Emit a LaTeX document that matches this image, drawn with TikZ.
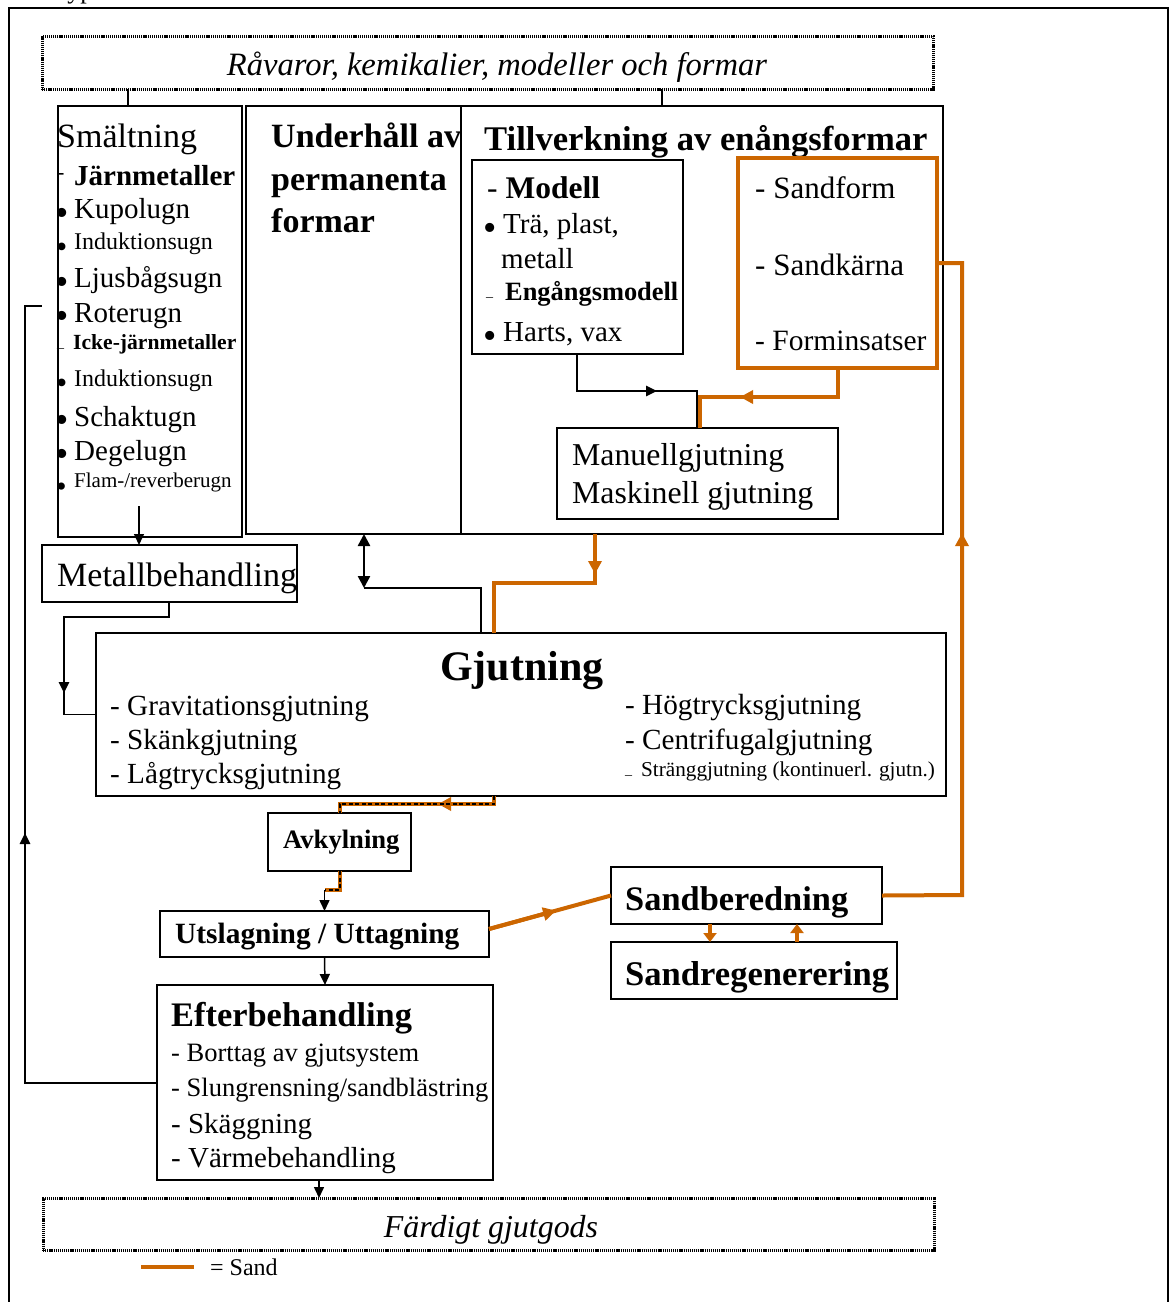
\documentclass[tikz,border=0pt]{standalone}
\usepackage{fontspec}
\setmainfont{Liberation Serif}
\usetikzlibrary{arrows.meta,calc}
\definecolor{sand}{RGB}{204,102,0}
\newcommand\fz[1]{\fontsize{#1pt}{#1pt}\selectfont}
\begin{document}
\begin{tikzpicture}[x=1pt,y=-1pt,
  box/.style={draw, line width=1.5pt, inner sep=0pt, outer sep=0pt, anchor=north west},
  dotbox/.style={draw, line width=3pt, dash pattern=on 1.2pt off 0.9pt, inner sep=0pt, outer sep=0pt, anchor=north west},
  sbox/.style={draw=sand, line width=4pt, inner sep=0pt, outer sep=0pt, anchor=north west},
  tx/.style={anchor=base west, inner sep=0pt},
  ln/.style={line width=1.5pt},
  sln/.style={draw=sand, line width=4pt},
  bk/.style={-{Triangle[length=11pt,width=10pt]}},
  sk/.style={-{Triangle[length=13pt,width=13pt]}},
  blk/.style={draw=black, line width=2pt, dash pattern=on 4pt off 2.5pt}
]
\useasboundingbox (0,0) rectangle (1170,1302);
\fill[white] (0,0) rectangle (1170,1302);

% outer frame and cut-off text
\draw[ln] (9,1302) -- (9,8) -- (1168,8) -- (1168,1302);
\node[tx, font=\fz{26}] (cut) at (60,-2) {typ};

% raw material box
\node[dotbox, minimum width=891pt, minimum height=53pt] (raw) at (42,36) {};
\node[font=\fz{32.6}\itshape, anchor=base, inner sep=0pt] (rawt) at (497,75) {Råvaror, kemikalier, modeller och formar};

% upper boxes
\node[box, minimum width=184pt, minimum height=431pt] (smelt) at (58,106) {};
\node[box, minimum width=697pt, minimum height=428pt] (big) at (246,106) {};
\draw[ln] ([xshift=215pt]big.north west) -- ([xshift=215pt]big.south west);
\coordinate (c1) at ([xshift=86pt]raw.south west);
\coordinate (c2) at ([xshift=620pt]raw.south west);
\draw[ln] (c1) -- (c1 |- smelt.north);
\draw[ln] (c2) -- (c2 |- big.north);

% Smältning texts
\node[tx,font=\fz{34}] (s0) at (57,147) {Smältning};
\node[tx,font=\fz{22}] (s1d) at (57,179) {-};
\node[tx,font=\fz{29}\bfseries] (s1) at (74,185) {Järnmetaller};
\node[tx,font=\fz{38}] (b1) at (55,225) {•};
\node[tx,font=\fz{29}] (s2) at (74,218) {Kupolugn};
\node[tx,font=\fz{32}] (b2) at (56,257) {•};
\node[tx,font=\fz{24}] (s3) at (74,249) {Induktionsugn};
\node[tx,font=\fz{38}] (b3) at (55,294) {•};
\node[tx,font=\fz{29}] (s4) at (74,287) {Ljusbågsugn};
\node[tx,font=\fz{38}] (b4) at (55,328) {•};
\node[tx,font=\fz{29}] (s5) at (74,322) {Roterugn};
\node[tx,font=\fz{14}] (s6d) at (57,347) {\_};
\node[tx,font=\fz{21.6}\bfseries] (s6) at (73,349) {Icke-järnmetaller};
\node[tx,font=\fz{32}] (b7) at (56,393) {•};
\node[tx,font=\fz{24}] (s7) at (74,386) {Induktionsugn};
\node[tx,font=\fz{38}] (b8) at (55,432) {•};
\node[tx,font=\fz{29}] (s8) at (74,426) {Schaktugn};
\node[tx,font=\fz{38}] (b9) at (55,466) {•};
\node[tx,font=\fz{29}] (s9) at (74,460) {Degelugn};
\node[tx,font=\fz{30}] (b10) at (56,496) {•};
\node[tx,font=\fz{21}] (s10) at (74,487) {Flam-/reverberugn};

% Metallbehandling
\node[box, minimum width=255pt, minimum height=57pt] (metall) at (42,545) {};
\node[tx,font=\fz{34}] (metallt) at (57,586) {Metallbehandling};
\coordinate (a1) at (139,506);
\draw[ln, bk] (a1) -- (a1 |- metall.north);

% Underhåll
\node[tx,font=\fz{34}\bfseries] (u1) at (271,147) {Underhåll av};
\node[tx,font=\fz{34}\bfseries] (u2) at (271,190) {permanenta};
\node[tx,font=\fz{34}\bfseries] (u3) at (271,232) {formar};

% Tillverkning
\node[tx,font=\fz{34.6}\bfseries] (tv) at (484,150) {Tillverkning av enångsformar};
\node[box, minimum width=211pt, minimum height=194pt] (modell) at (472,160) {};
\node[tx,font=\fz{31.5}] (m1) at (487,198) {- \textbf{Modell}};
\node[tx,font=\fz{38}] (mb1) at (483,240) {•};
\node[tx,font=\fz{29}] (m2) at (503,233) {Trä, plast,};
\node[tx,font=\fz{29}] (m3) at (501,268) {metall};
\node[tx,font=\fz{14}] (m4d) at (486,296) {\_};
\node[tx,font=\fz{26.4}\bfseries] (m4) at (505,300) {Engångsmodell};
\node[tx,font=\fz{38}] (mb5) at (483,348) {•};
\node[tx,font=\fz{29}] (m5) at (503,341) {Harts, vax};

\node[sbox, minimum width=199pt, minimum height=210pt] (sand) at (738,158) {};
\node[tx,font=\fz{31}] (sd1) at (755,198) {- Sandform};
\node[tx,font=\fz{31}] (sd2) at (755,275) {- Sandkärna};
\node[tx,font=\fz{29.5}] (sd3) at (755,350) {- Forminsatser};

\node[box, minimum width=281pt, minimum height=91pt] (man) at (557,428) {};
\node[tx,font=\fz{31.8}] (man1) at (572,465) {Manuellgjutning};
\node[tx,font=\fz{31.8}] (man2) at (572,503) {Maskinell gjutning};

% sand box -> Manuell
\coordinate (sb) at ([xshift=100pt]sand.south west);
\coordinate (sj) at (700,397);
\draw[sln] (sb) |- (sj) -- (sj |- man.north);
\coordinate (sa) at (740,397);
\draw[sln, sk] (sb |- sj) -- (sa);
% Modell -> Manuell
\coordinate (mb) at ([xshift=105pt]modell.south west);
\coordinate (mj) at (697,391);
\draw[ln] (mb) |- (mj) -- (mj |- man.north);
\coordinate (ma1) at (611,391);
\coordinate (ma2) at (657,391);
\draw[line width=2.5pt, bk] (ma1) -- (ma2);

% Gjutning
\node[box, minimum width=850pt, minimum height=163pt] (gjut) at (96,633) {};
\node[font=\fz{42}\bfseries, anchor=base, inner sep=0pt] (gt) at (522,680) {Gjutning};
\node[tx,font=\fz{29.2}] (gl1) at (110,715) {- Gravitationsgjutning};
\node[tx,font=\fz{29.2}] (gl2) at (110,749) {- Skänkgjutning};
\node[tx,font=\fz{29.2}] (gl3) at (110,783) {- Lågtrycksgjutning};
\node[tx,font=\fz{29.2}] (gr1) at (625,714) {- Högtrycksgjutning};
\node[tx,font=\fz{29.2}] (gr2) at (625,749) {- Centrifugalgjutning};
\node[tx,font=\fz{14}] (gr3d) at (625,774) {\_};
\node[tx,font=\fz{21.2}] (gr3) at (641,776) {Stränggjutning (kontinuerl. gjutn.)};

% big -> Gjutning (sand)
\coordinate (g1) at ([xshift=349pt]big.south west);
\coordinate (g2) at (494,583);
\draw[sln] (g1) |- (g2) -- (g2 |- gjut.north);
\coordinate (g3) at (595,574);
\draw[sln, sk] (g1) -- (g3);

% double arrow big <-> Gjutning
\coordinate (d1) at ([xshift=118pt]big.south west);
\coordinate (d2) at (364,588);
\coordinate (d3) at (481,588);
\draw[line width=2.5pt, {Triangle[length=12pt,width=12pt]}-{Triangle[length=12pt,width=12pt]}] (d1) -- (d2);
\draw[ln] (d2) -- (d3) -- (d3 |- gjut.north);

% Metall -> Gjutning
\coordinate (mt1) at ([xshift=127pt]metall.south west);
\coordinate (mt2) at (64,617);
\draw[ln] (mt1) |- (mt2) |- (gjut.west);
\coordinate (mt3) at (64,645);
\coordinate (mt4) at (64,693);
\draw[line width=2.5pt, bk] (mt3) -- (mt4);

% Avkylning
\node[box, minimum width=143pt, minimum height=58pt] (avk) at (268,813) {};
\node[tx,font=\fz{26.6}\bfseries] (avkt) at (283,848) {Avkylning};
\coordinate (ga) at ([xshift=398pt]gjut.south west);
\coordinate (gb) at (494,804);
\coordinate (gc) at (339.5,804);
\draw[sln] (ga) -- (gb) -- (gc) -- (avk.north);
\coordinate (gd) at (438,804);
\draw[sln, sk] (gb) -- (gd);
\draw[blk] (ga) -- (gb) -- (gc) -- (avk.north);

% Utslagning
\node[box, minimum width=329pt, minimum height=46pt] (uts) at (160,911) {};
\node[tx,font=\fz{29.4}\bfseries] (utst) at (175,943) {Utslagning / Uttagning};
\coordinate (ab) at (324.5,890);
\draw[sln] (avk.south) |- (ab);
\draw[blk] (avk.south) |- (ab);
\draw[ln, bk] (ab) -- (uts.north);

% Efterbehandling
\node[box, minimum width=336pt, minimum height=195pt] (eft) at (157,985) {};
\node[tx,font=\fz{34.4}\bfseries] (eft0) at (171,1026) {Efterbehandling};
\node[tx,font=\fz{26.5}] (eft1) at (171,1061) {- Borttag av gjutsystem};
\node[tx,font=\fz{26.5}] (eft2) at (171,1096) {- Slungrensning/sandblästring};
\node[tx,font=\fz{29}] (eft3) at (171,1133) {- Skäggning};
\node[tx,font=\fz{29}] (eft4) at (171,1167) {- Värmebehandling};
\draw[ln, bk] (uts.south) -- (eft.north);

% Färdigt
\node[dotbox, minimum width=891pt, minimum height=52pt] (fard) at (43,1198) {};
\node[font=\fz{31.9}\itshape, anchor=base, inner sep=0pt] (fardt) at (491,1237) {Färdigt gjutgods};
\coordinate (e1) at ([xshift=162pt]eft.south west);
\draw[ln, bk] (e1) -- (e1 |- fard.north);

% return loop
\coordinate (l1) at (25,1083);
\coordinate (l2) at (25,306);
\coordinate (l3) at (42,306);
\draw[ln] (l1 -| eft.west) -- (l1) -- (l2) -- (l3);
\coordinate (l4) at (25,908);
\coordinate (l5) at (25,833);
\draw[line width=2.5pt, bk] (l4) -- (l5);

% Sand preparation
\node[box, minimum width=271pt, minimum height=57pt] (sbr) at (611,867) {};
\node[tx,font=\fz{34.4}\bfseries] (sbrt) at (625,910) {Sandberedning};
\node[box, minimum width=286pt, minimum height=57pt] (sreg) at (611,942) {};
\node[tx,font=\fz{34.6}\bfseries] (sregt) at (625,985) {Sandregenerering};

\coordinate (u1c) at (489,929);
\draw[sln] (u1c) -- (sbr.west);
\draw[sln, sk] (u1c) -- ($(u1c)!0.55!(sbr.west)$);

\coordinate (r1) at ([xshift=99pt]sbr.south west);
\coordinate (r2) at ([xshift=186pt]sreg.north west);
\draw[draw=sand, line width=4pt, -{Triangle[length=9pt,width=13pt]}] (r1) -- (r1 |- sreg.north);
\draw[draw=sand, line width=4pt, -{Triangle[length=9pt,width=13pt]}] (r2) -- (r2 |- sbr.south);

\coordinate (v1) at (962,895);
\coordinate (v2) at (962,533);
\draw[sln] (sbr.east) -- (v1) -- (v1 |- sand.east) -- (sand.east);
\draw[sln, sk] (v1) -- (v2);

% legend
\coordinate (lg1) at (141,1267);
\coordinate (lg2) at (194,1267);
\draw[sln] (lg1) -- (lg2);
\node[tx,font=\fz{24}] (lgt) at (210,1275) {= Sand};
\end{tikzpicture}
\end{document}
